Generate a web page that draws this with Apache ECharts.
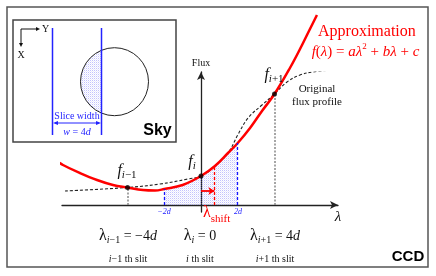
<!DOCTYPE html>
<html><head><meta charset="utf-8">
<script src="https://cdn.jsdelivr.net/npm/echarts@6/dist/echarts.min.js"></script>
<style>html,body{margin:0;padding:0;background:#fff}#c{width:436px;height:276px}</style>
</head><body><div id="c"></div>
<script>
// ---- data (λ in units of d, flux in arbitrary units) ----
const redLambda = [-8.87,-8.22,-7.51,-6.59,-5.66,-4.79,-4,-3.16,-2.5,-2,-1,0,0.76,1.47,2,2.67,3.32,4,4.84,5.5,5.93,6.31];
const redFlux   = [5.6,4.8,4.0,3.2,2.5,2.0,1.75,1.5,1.45,1.6,2.0,2.9,3.9,5.2,6.2,7.7,9.4,11.1,13.7,16.0,17.6,19.0];
const origLambda = [-7.4,-4,-2.23,-0.71,0,0.76,1.47,2,2.56,3.32,4,4.68,5.39,6.1,7.18];
const origFlux   = [1.4,1.75,2.1,2.6,2.9,3.9,5.2,7.0,8.7,10.0,11.1,12.3,13.0,13.3,13.5];
const slitLambda = [-4,0,4];
const slitFlux   = [1.75,2.9,11.1];
const windowEdges = [-2,2];
const windowFlux  = [1.6,6.2];
const shiftLambda = 0.73;
const shiftFlux   = 3.9;
const arrowFlux   = 1.4;
const edgeLabels = ['−2d','2d'];

// ---- helpers ----
const SERIF = "'Liberation Serif','Times New Roman',serif";
const SANS = "'Liberation Sans',Arial,sans-serif";
const mctx = document.createElement('canvas').getContext('2d');
function tw(font,t){mctx.font=font;return mctx.measureText(t).width;}
function comp(parts,x,y,color,anchor){
  let total=0; parts.forEach(p=>{p.w=tw(p.f,p.t);total+=p.w;});
  let cx = anchor==='left'? x : x-total/2;
  return parts.map(p=>{const el={type:'text',z:50,silent:true,style:{text:p.t,x:cx,y:y+(p.dy||0),font:p.f,fill:p.c||color,textAlign:'left',textVerticalAlign:'middle'}};cx+=p.w;return el;});
}
function F(style,size){return style+' '+size+'px '+SERIF;}
function makePattern(){
  const c=document.createElement('canvas');c.width=2;c.height=2;
  const g=c.getContext('2d');
  g.fillStyle='rgba(120,120,250,0.45)';g.fillRect(0,0,1,1);
  g.fillStyle='rgba(170,170,250,0.25)';g.fillRect(1,1,1,1);
  return c;
}
const pat = makePattern();

const zip=(a,b)=>a.map((v,i)=>[v,b[i]]);
const redData = zip(redLambda,redFlux);
const origData = zip(origLambda,origFlux);
const shadeData = redData.filter(p=>p[0]>=windowEdges[0]&&p[0]<=windowEdges[1]);

const chart = echarts.init(document.getElementById('c'),null,{renderer:'canvas'});

const graphics = [];
// outer CCD box
graphics.push({type:'rect',z:1,silent:true,shape:{x:7,y:7,width:421,height:260},style:{fill:'none',stroke:'#555',lineWidth:1.5}});
// Sky box
graphics.push({type:'rect',z:20,silent:true,shape:{x:13,y:20,width:163,height:122},style:{fill:'#fff',stroke:'#444',lineWidth:1.5}});
// shaded part of source
graphics.push({type:'circle',z:21,silent:true,shape:{cx:114.5,cy:81.7,r:34},style:{fill:{image:pat,repeat:'repeat'},stroke:'none'}});
graphics.push({type:'rect',z:22,silent:true,shape:{x:101.5,y:46,width:50,height:72},style:{fill:'#fff'}});
graphics.push({type:'circle',z:23,silent:true,shape:{cx:114.5,cy:81.7,r:34},style:{fill:'none',stroke:'#222',lineWidth:1}});
// slit lines
[52.5,101.5].forEach(x=>graphics.push({type:'line',z:24,silent:true,shape:{x1:x,y1:28,x2:x,y2:135},style:{stroke:'#2323ff',lineWidth:1.5}}));
// slice width double arrow
graphics.push({type:'line',z:24,silent:true,shape:{x1:55,y1:123,x2:99,y2:123},style:{stroke:'#2323ff',lineWidth:1}});
graphics.push({type:'polygon',z:24,silent:true,shape:{points:[[53,123],[58,121],[58,125]]},style:{fill:'#2323ff'}});
graphics.push({type:'polygon',z:24,silent:true,shape:{points:[[101,123],[96,121],[96,125]]},style:{fill:'#2323ff'}});
// mini XY axes
graphics.push({type:'line',z:24,silent:true,shape:{x1:21,y1:29,x2:37,y2:29},style:{stroke:'#111',lineWidth:1}});
graphics.push({type:'polygon',z:24,silent:true,shape:{points:[[40,29],[36,27],[36,31]]},style:{fill:'#111'}});
graphics.push({type:'line',z:24,silent:true,shape:{x1:21,y1:29,x2:21,y2:44},style:{stroke:'#111',lineWidth:1}});
graphics.push({type:'polygon',z:24,silent:true,shape:{points:[[21,47],[19,43],[23,43]]},style:{fill:'#111'}});
graphics.push(...comp([{t:'Y',f:F('normal',10)}],42,29,'#111','left'));
graphics.push(...comp([{t:'X',f:F('normal',10)}],21,55,'#111'));
graphics.push(...comp([{t:'Slice width',f:F('normal',10)}],77,116,'#2323ff'));
graphics.push(...comp([{t:'w',f:F('italic',10)},{t:' = 4',f:F('normal',10)},{t:'d',f:F('italic',10)}],77,132,'#2323ff'));
graphics.push(...comp([{t:'Sky',f:'bold 16px '+SANS}],157.5,131,'#000'));
graphics.push(...comp([{t:'CCD',f:'bold 15px '+SANS}],408,257,'#000'));

// main labels
graphics.push(...comp([{t:'Approximation',f:F('normal',16)}],318,32,'#f00','left'));
graphics.push(...comp([{t:'f',f:F('italic',15)},{t:'(',f:F('normal',15)},{t:'λ',f:F('italic',15)},{t:') = ',f:F('normal',15)},{t:'aλ',f:F('italic',15)},{t:'2',f:F('normal',9),dy:-5},{t:' + ',f:F('normal',15)},{t:'bλ',f:F('italic',15)},{t:' + ',f:F('normal',15)},{t:'c',f:F('italic',15)}],365.5,52,'#f00'));
graphics.push(...comp([{t:'Original',f:F('normal',11)}],317,89,'#111'));
graphics.push(...comp([{t:'flux profile',f:F('normal',11)}],317,102,'#111'));
graphics.push(...comp([{t:'Flux',f:F('normal',10)}],201,63,'#111'));
graphics.push(...comp([{t:'λ',f:F('italic',15)}],338,217,'#111'));
graphics.push(...comp([{t:'f',f:F('italic',16)},{t:'i',f:F('italic',11),dy:4},{t:'−1',f:F('normal',11),dy:4}],127,171,'#111'));
graphics.push(...comp([{t:'f',f:F('italic',16)},{t:'i',f:F('italic',11),dy:4}],192,162,'#111'));
graphics.push(...comp([{t:'f',f:F('italic',16)},{t:'i',f:F('italic',11),dy:4},{t:'+1',f:F('normal',11),dy:4}],274,75,'#111'));
graphics.push(...comp([{t:edgeLabels[0].slice(0,2),f:F('italic',8)},{t:'d',f:F('italic',8)}],164,212,'#2323ff'));
graphics.push(...comp([{t:edgeLabels[1].slice(0,1),f:F('italic',8)},{t:'d',f:F('italic',8)}],238,212,'#2323ff'));
graphics.push(...comp([{t:'λ',f:F('normal',16)},{t:'shift',f:F('normal',11),dy:6}],203,213,'#f00','left'));
graphics.push(...comp([{t:'λ',f:F('normal',16)},{t:'i',f:F('italic',10),dy:4},{t:'−1',f:F('normal',10),dy:4},{t:' = −4',f:F('normal',14)},{t:'d',f:F('italic',14)}],128,236,'#111'));
graphics.push(...comp([{t:'λ',f:F('normal',16)},{t:'i',f:F('italic',10),dy:4},{t:' = 0',f:F('normal',14)}],200,236,'#111'));
graphics.push(...comp([{t:'λ',f:F('normal',16)},{t:'i',f:F('italic',10),dy:4},{t:'+1',f:F('normal',10),dy:4},{t:' = 4',f:F('normal',14)},{t:'d',f:F('italic',14)}],275,236,'#111'));
graphics.push(...comp([{t:'i',f:F('italic',10)},{t:'−1 th slit',f:F('normal',10)}],128,259,'#111'));
graphics.push(...comp([{t:'i',f:F('italic',10)},{t:' th slit',f:F('normal',10)}],200,259,'#111'));
graphics.push(...comp([{t:'i',f:F('italic',10)},{t:'+1 th slit',f:F('normal',10)}],275,259,'#111'));

const option = {
  animation:false,
  backgroundColor:'#fff',
  grid:{left:62,right:98,top:72,bottom:64},
  xAxis:{type:'value',min:-7.565,max:7.456,axisLabel:{show:false},axisTick:{show:false},splitLine:{show:false},
    axisLine:{onZero:true,symbol:['none','arrow'],symbolSize:[6,8],lineStyle:{color:'#222',width:1.3}}},
  yAxis:{type:'value',min:-0.7,max:13.3,axisLabel:{show:false},axisTick:{show:false},splitLine:{show:false},
    axisLine:{onZero:true,symbol:['none','arrow'],symbolSize:[6,8],lineStyle:{color:'#222',width:1.3}}},
  series:[
    {type:'line',z:1,data:shadeData,smooth:0.4,symbol:'none',lineStyle:{width:0},areaStyle:{color:{image:pat,repeat:'repeat'},opacity:1},silent:true},
    {type:'line',z:2,data:[],symbol:'none',silent:true,
      markLine:{silent:true,symbol:'none',label:{show:false},lineStyle:{color:'#888',type:[2,1.5],width:1.5},
        data:[[{coord:[slitLambda[0],0]},{coord:[slitLambda[0],slitFlux[0]]}],[{coord:[slitLambda[2],0]},{coord:[slitLambda[2],slitFlux[2]]}]]}},
    {type:'line',z:2,data:[],symbol:'none',silent:true,
      markLine:{silent:true,symbol:'none',label:{show:false},lineStyle:{color:'#1515ff',type:[3,2],width:1.3},
        data:windowEdges.map((e,i)=>[{coord:[e,0]},{coord:[e,windowFlux[i]]}])}},
    {type:'line',z:2,data:[],symbol:'none',silent:true,
      markLine:{silent:true,symbol:'none',label:{show:false},lineStyle:{color:'#f00',type:[3,2],width:1.3},
        data:[[{coord:[shiftLambda,0]},{coord:[shiftLambda,shiftFlux]}]]}},
    {type:'line',z:2,data:[],symbol:'none',silent:true,
      markLine:{silent:true,symbol:['none','arrow'],symbolSize:6,label:{show:false},lineStyle:{color:'#f00',type:'solid',width:1.8},
        data:[[{coord:[0,arrowFlux]},{coord:[shiftLambda,arrowFlux]}]]}},
    {type:'line',z:3,data:origData,smooth:0.4,symbol:'none',silent:true,lineStyle:{color:'#222',width:1.1,type:[3,2]}},
    {type:'line',z:4,data:redData,smooth:0.4,symbol:'none',clip:false,silent:true,lineStyle:{color:'#f00',width:2.5}},
    {type:'scatter',z:5,data:zip(slitLambda,slitFlux),symbolSize:5,itemStyle:{color:'#000'},silent:true}
  ],
  graphic:graphics
};
chart.setOption(option);
</script></body></html>
